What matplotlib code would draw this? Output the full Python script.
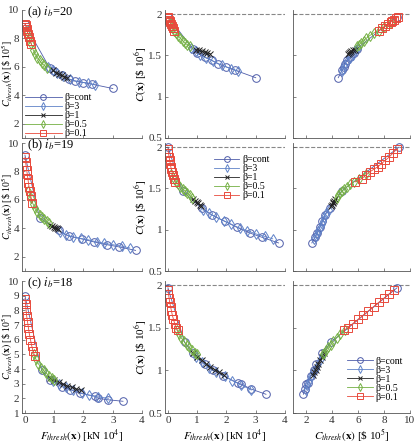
import numpy as np
import matplotlib
matplotlib.use("Agg")
import matplotlib.pyplot as plt

plt.rcParams['font.family'] = ['Liberation Serif', 'DejaVu Serif']
plt.rcParams['mathtext.fontset'] = 'stix'
plt.rcParams['font.size'] = 8

# series labels and styles
labels = ['β=cont', 'β=3', 'β=1', 'β=0.5', 'β=0.1']
colors = ['#4f5daa', '#5f82c8', '#222222', '#74b043', '#e84a3c']
markers = ['o', 'd', 'x', 'd', 's']
titles = ['(a) $i_b$=20', '(b) $i_b$=19', '(c) $i_b$=18']

# ---- row (a): i_b = 20 ----
a_F = [
    [0.00, 0.85, 1.00, 1.25, 1.50, 1.70, 2.00, 2.30, 3.00],
    [0.80, 0.95, 1.10, 1.30, 1.55, 1.85, 2.15, 2.40],
    [0.95, 1.05, 1.15, 1.25, 1.35, 1.45],
    [0.08, 0.15, 0.22, 0.28, 0.35, 0.42, 0.50, 0.58, 0.66, 0.75],
    [0.00, 0.02, 0.04, 0.06, 0.08, 0.11, 0.14, 0.18, 0.22],
]
a_Cth = [
    [9.00, 5.90, 5.70, 5.40, 5.15, 5.00, 4.90, 4.78, 4.48],
    [6.00, 5.80, 5.60, 5.35, 5.12, 4.95, 4.85, 4.75],
    [5.75, 5.60, 5.50, 5.40, 5.30, 5.25],
    [8.50, 8.00, 7.60, 7.20, 6.90, 6.65, 6.45, 6.25, 6.10, 5.95],
    [9.05, 8.95, 8.80, 8.65, 8.50, 8.30, 8.10, 7.85, 7.60],
]
a_C = [
    [1.97, 1.58, 1.53, 1.48, 1.44, 1.40, 1.36, 1.32, 1.23],
    [1.59, 1.55, 1.51, 1.47, 1.43, 1.38, 1.34, 1.31],
    [1.57, 1.56, 1.55, 1.54, 1.53, 1.52],
    [1.89, 1.84, 1.80, 1.77, 1.74, 1.71, 1.68, 1.65, 1.63, 1.61],
    [1.96, 1.95, 1.93, 1.92, 1.90, 1.88, 1.86, 1.83, 1.80],
]

# ---- row (b): i_b = 19 ----
b_F = [
    [0.00, 0.50, 1.15, 1.50, 1.95, 2.35, 2.80, 3.20, 3.78],
    [1.20, 1.40, 1.65, 1.90, 2.15, 2.45, 2.70, 3.00, 3.30, 3.58],
    [0.85, 0.92, 0.98, 1.03, 1.08, 1.13],
    [0.12, 0.20, 0.28, 0.35, 0.42, 0.50, 0.58, 0.66, 0.74, 0.82],
    [0.00, 0.02, 0.04, 0.06, 0.08, 0.10, 0.12, 0.14, 0.17, 0.20, 0.24],
]
b_Cth = [
    [9.15, 4.75, 3.85, 3.45, 3.25, 3.05, 2.85, 2.70, 2.45],
    [3.75, 3.55, 3.40, 3.30, 3.20, 3.05, 2.95, 2.85, 2.75, 2.62],
    [4.25, 4.15, 4.10, 4.05, 4.00, 3.95],
    [6.60, 6.10, 5.70, 5.40, 5.15, 4.95, 4.80, 4.65, 4.50, 4.35],
    [9.00, 8.70, 8.40, 8.10, 7.80, 7.50, 7.20, 6.90, 6.60, 6.30, 5.80],
]
b_C = [
    [2.00, 1.47, 1.26, 1.18, 1.10, 1.03, 0.96, 0.91, 0.84],
    [1.24, 1.20, 1.15, 1.11, 1.07, 1.02, 0.99, 0.95, 0.92, 0.89],
    [1.37, 1.35, 1.33, 1.32, 1.30, 1.29],
    [1.68, 1.62, 1.58, 1.55, 1.52, 1.49, 1.47, 1.44, 1.42, 1.39],
    [1.98, 1.93, 1.88, 1.84, 1.80, 1.76, 1.73, 1.70, 1.66, 1.62, 1.58],
]

# ---- row (c): i_b = 18 ----
c_F = [
    [0.00, 0.57, 0.85, 1.26, 1.54, 1.88, 2.40, 2.50, 2.85, 3.35],
    [0.95, 1.15, 1.40, 1.65, 1.95, 2.20, 2.50, 2.85],
    [0.85, 1.00, 1.15, 1.30, 1.45, 1.60, 1.75, 1.90],
    [0.30, 0.38, 0.46, 0.55, 0.64, 0.73, 0.82, 0.91, 1.00],
    [0.00, 0.02, 0.04, 0.06, 0.09, 0.12, 0.15, 0.19, 0.23, 0.28, 0.33],
]
c_Cth = [
    [9.00, 3.90, 3.25, 2.80, 2.60, 2.35, 2.15, 2.00, 1.90, 1.80],
    [3.20, 3.00, 2.75, 2.55, 2.35, 2.20, 2.10, 2.00],
    [3.40, 3.25, 3.10, 2.95, 2.85, 2.75, 2.65, 2.55],
    [5.00, 4.65, 4.35, 4.10, 3.90, 3.70, 3.55, 3.40, 3.28],
    [8.80, 8.40, 8.00, 7.60, 7.20, 6.80, 6.40, 6.00, 5.60, 5.20, 4.90],
]
c_C = [
    [1.97, 1.33, 1.20, 1.07, 1.00, 0.94, 0.85, 0.84, 0.78, 0.72],
    [1.16, 1.10, 1.03, 0.98, 0.93, 0.88, 0.83, 0.77],
    [1.21, 1.16, 1.12, 1.08, 1.04, 1.01, 0.98, 0.95],
    [1.48, 1.43, 1.38, 1.34, 1.30, 1.27, 1.24, 1.21, 1.19],
    [1.95, 1.90, 1.85, 1.80, 1.75, 1.70, 1.65, 1.60, 1.55, 1.50, 1.47],
]

rows = [(a_F, a_Cth, a_C), (b_F, b_Cth, b_C), (c_F, c_Cth, c_C)]

fig = plt.figure(figsize=(4.16, 4.44), dpi=100)

row_pos = [(0.6892, 0.2883), (0.3896, 0.2883), (0.0698, 0.2973)]
col_pos = [(0.0529, 0.2885), (0.3966, 0.2885), (0.7043, 0.2813)]

spine_col = '#555555'

def style(ax):
    for s in ['top', 'right']:
        ax.spines[s].set_visible(False)
    for s in ['left', 'bottom']:
        ax.spines[s].set_color(spine_col)
        ax.spines[s].set_linewidth(0.6)
    ax.tick_params(direction='in', length=2.5, width=0.5, color=spine_col,
                   labelsize=8, pad=2, labelcolor='#333333')

def draw(ax, xs, ys):
    handles = []
    for i in range(5):
        h, = ax.plot(xs[i], ys[i], marker=markers[i], color=colors[i],
                     mfc='none', mec=colors[i], ms=5.5 if markers[i] != 'x' else 4.5,
                     mew=0.7, lw=0.6, label=labels[i])
        handles.append(h)
    return handles

lab_Cth = r'$C_{thresh}(\mathbf{x})$ [\$ 10$^5$]'
lab_C = r'$C(\mathbf{x})$ [\$ 10$^6$]'
lab_F = r'$F_{thresh}(\mathbf{x})$ [kN 10$^4$]'

for r, (F, Cth, C) in enumerate(rows):
    bot, h = row_pos[r]
    ax1 = fig.add_axes([col_pos[0][0], bot, col_pos[0][1], h])
    ax2 = fig.add_axes([col_pos[1][0], bot, col_pos[1][1], h])
    ax3 = fig.add_axes([col_pos[2][0], bot, col_pos[2][1], h])
    for ax in (ax1, ax2, ax3):
        style(ax)

    hs = draw(ax1, F, Cth)
    draw(ax2, F, C)
    draw(ax3, Cth, C)

    ax1.set_xlim(-0.1, 4)
    ax1.set_ylim(1, 10)
    ax1.set_xticks([0, 1, 2, 3, 4])
    if r < 2:
        ax1.set_yticks([2, 4, 6, 8, 10])
    else:
        ax1.set_yticks(range(1, 11))
    ax1.set_ylabel(lab_Cth, fontsize=7)
    ax1.yaxis.set_label_coords(-0.06, 0.5)
    ax1.text(0.04, 0.985, titles[r], transform=ax1.transAxes,
             va='center', ha='left', fontsize=9)

    ax2.set_xlim(-0.1, 4)
    ax2.set_ylim(0.5, 2.05)
    ax2.set_xticks([0, 1, 2, 3, 4])
    ax2.set_yticks([0.5, 1, 1.5, 2])
    ax2.set_yticklabels(['0.5', '1', '1.5', '2'])
    ax2.set_ylabel(lab_C, fontsize=8)
    ax2.yaxis.set_label_coords(-0.13, 0.5)

    ax3.set_xlim(1, 10)
    ax3.set_ylim(0.5, 2.05)
    ax3.set_xticks([2, 4, 6, 8, 10])
    ax3.set_yticks([0.5, 1, 1.5, 2])
    ax3.tick_params(labelleft=False)

    for ax in (ax2, ax3):
        ax.axhline(2, color='#888888', ls='--', lw=0.8, zorder=0)

    if r < 2:
        for ax in (ax1, ax2, ax3):
            ax.tick_params(labelbottom=False)
    else:
        ax1.set_xlabel(lab_F, labelpad=2)
        ax2.set_xlabel(lab_F, labelpad=2)
        ax3.set_xlabel(lab_Cth, labelpad=2)

    leg_kw = dict(frameon=False, fontsize=7, labelspacing=0.0, markerscale=0.75,
                  handletextpad=0.3, borderaxespad=0.2)
    if r == 0:
        ax1.legend(handles=hs, loc='lower left', handlelength=3.8,
                   bbox_to_anchor=(-0.025, -0.045), **leg_kw)
    elif r == 1:
        ax2.legend(handles=hs, loc='upper right', handlelength=2.6,
                   bbox_to_anchor=(0.92, 0.95), **leg_kw)
    else:
        ax3.legend(handles=hs, loc='lower right', handlelength=2.6,
                   bbox_to_anchor=(0.99, 0.04), **leg_kw)

fig.savefig('out.png', dpi=100)
